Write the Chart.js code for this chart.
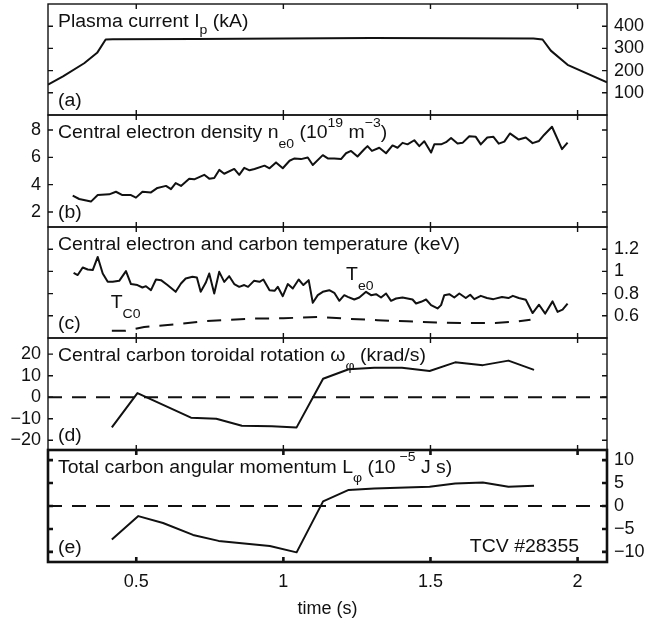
<!DOCTYPE html>
<html><head><meta charset="utf-8">
<script src="https://cdn.jsdelivr.net/npm/chart.js@4.4.1/dist/chart.umd.min.js"></script>
<style>
html,body{margin:0;padding:0;background:#fff;}
#wrap{position:relative;width:667px;height:620px;overflow:hidden;background:#fff;}
#wrap canvas{position:absolute;left:0;top:0;}
</style></head><body><div id="wrap">
<canvas id="ca" width="667" height="620"></canvas>
<canvas id="cb" width="667" height="620"></canvas>
<canvas id="cc" width="667" height="620"></canvas>
<canvas id="cd" width="667" height="620"></canvas>
<canvas id="ce" width="667" height="620"></canvas>
</div>
<script>
// ---- data ----
const timeTicks = [0.5, 1, 1.5, 2];
const tIp = [0.2,0.251,0.323,0.367,0.396,0.42,0.7,1.0,1.3,1.6,1.85,1.881,1.909,1.966,2.1];
const ip  = [137,174,233,280,340,341,342,345,347,346,345,340,290,226,147];

const tNe = [0.284,0.306,0.346,0.369,0.408,0.431,0.453,0.482,0.499,0.521,0.550,0.572,0.601,0.618,0.634,0.652,0.680,0.697,0.731,0.748,0.765,0.782,0.799,0.833,0.850,0.867,0.885,0.902,0.936,0.953,0.975,0.998,1.021,1.038,1.060,1.083,1.100,1.134,1.151,1.173,1.196,1.213,1.230,1.252,1.275,1.286,1.301,1.326,1.349,1.371,1.388,1.405,1.422,1.445,1.462,1.479,1.502,1.513,1.536,1.553,1.570,1.592,1.609,1.632,1.654,1.671,1.693,1.714,1.732,1.751,1.770,1.800,1.824,1.847,1.869,1.886,1.913,1.947,1.966];
const ne  = [3.19,2.95,2.76,3.24,3.29,3.48,3.24,3.24,3.05,3.48,3.43,3.76,3.91,3.67,4.12,3.91,4.44,4.39,4.72,4.44,4.48,5.08,4.80,5.15,4.72,5.23,5.05,5.15,5.39,5.20,5.63,5.20,5.75,5.92,5.87,5.99,5.44,6.16,5.92,5.92,5.87,6.30,6.47,6.06,6.59,6.82,6.47,6.70,6.30,6.87,6.70,7.06,6.95,7.25,6.82,7.18,6.35,6.95,6.95,7.11,7.42,7.02,7.06,7.54,7.50,6.95,7.45,7.50,7.00,7.15,7.75,7.30,7.45,7.04,7.20,7.64,8.24,6.60,7.08];

const tTe = [0.287,0.301,0.318,0.335,0.352,0.369,0.386,0.403,0.420,0.442,0.465,0.482,0.504,0.521,0.533,0.550,0.567,0.584,0.606,0.634,0.652,0.668,0.691,0.706,0.719,0.736,0.748,0.765,0.782,0.799,0.816,0.833,0.850,0.867,0.880,0.900,0.919,0.932,0.953,0.970,0.981,0.998,1.015,1.032,1.052,1.068,1.086,1.100,1.117,1.134,1.156,1.173,1.190,1.207,1.219,1.241,1.258,1.281,1.298,1.315,1.332,1.349,1.366,1.383,1.405,1.422,1.439,1.451,1.468,1.485,1.502,1.524,1.536,1.547,1.564,1.581,1.598,1.620,1.635,1.649,1.671,1.692,1.714,1.743,1.765,1.780,1.800,1.824,1.847,1.869,1.890,1.915,1.932,1.949,1.966];
const te  = [0.987,0.967,1.035,1.017,1.012,1.130,0.981,0.906,0.906,0.915,1.003,0.886,0.877,0.855,0.867,0.831,0.927,0.921,0.877,0.816,0.891,0.936,0.951,0.945,0.816,0.897,0.981,0.801,0.996,0.906,0.957,0.886,0.861,0.877,0.861,0.915,0.906,0.927,0.831,0.825,0.861,0.777,0.886,0.846,0.927,0.877,0.921,0.717,0.786,0.816,0.831,0.807,0.735,0.786,0.771,0.747,0.765,0.816,0.786,0.795,0.765,0.801,0.735,0.756,0.765,0.756,0.747,0.711,0.726,0.747,0.696,0.666,0.696,0.786,0.795,0.765,0.801,0.760,0.790,0.750,0.780,0.760,0.750,0.770,0.760,0.780,0.760,0.745,0.625,0.700,0.620,0.730,0.635,0.655,0.710];

const tTc = [0.417,0.464,0.527,0.640,0.736,0.820,0.900,1.000,1.120,1.230,1.320,1.420,1.520,1.620,1.720,1.800,1.840];
const tc  = [0.465,0.465,0.500,0.525,0.552,0.565,0.575,0.578,0.590,0.572,0.560,0.550,0.540,0.535,0.535,0.550,0.565];

const tRot = [0.417,0.504,0.686,0.772,0.859,0.961,1.045,1.135,1.222,1.309,1.403,1.497,1.584,1.678,1.765,1.852];
const rot  = [-14.0,1.9,-9.5,-10.0,-13.2,-13.5,-14.0,8.6,13.0,13.7,13.7,12.2,16.2,14.9,17.0,12.7];

const tMom = [0.417,0.507,0.591,0.693,0.780,0.954,1.045,1.135,1.222,1.309,1.497,1.584,1.678,1.765,1.852];
const mom  = [-7.3,-2.2,-3.7,-6.3,-7.6,-8.7,-10.1,1.0,3.5,3.8,4.2,4.9,5.1,4.2,4.4];

const tZero = [0.2, 2.1];
const zero  = [0, 0];

const ticksA = [100,200,300,400];
const ticksB = [2,4,6,8];
const ticksC = [0.6,0.8,1,1.2];
const ticksD = [-20,-10,0,10,20];
const ticksE = [-10,-5,0,5,10];

// ---- styling / layout ----
const FONT = '"Liberation Sans", Arial, Helvetica, sans-serif';
const MAIN = '18px ' + FONT, SMALL = '13px ' + FONT;
const SX = 1.08;           // horizontal stretch of the reference's lettering
const INK = '#111';
Chart.defaults.font.family = FONT;
Chart.defaults.color = INK;

function pts(t, v){ return t.map((x,i)=>({x:x, y:v[i]})); }
function fmt(v){ return v < 0 ? '\u2212' + Math.abs(v) : String(v); }

function drawRich(ctx, x, y, parts, right){
  let w = 0;
  for (const p of parts){ ctx.font = p.s ? SMALL : MAIN; w += ctx.measureText(p.t).width; }
  ctx.save();
  ctx.translate(right ? x - w * SX : x, y);
  ctx.scale(SX, 1);
  let cx = 0;
  for (const p of parts){
    ctx.font = p.s ? SMALL : MAIN;
    ctx.fillText(p.t, cx, p.dy || 0);
    cx += ctx.measureText(p.t).width;
  }
  ctx.restore();
}

function makeFrame(o){
  return {
    id: 'frame',
    afterDraw(chart){
      const {ctx, chartArea: a, scales: {x, y}} = chart;
      ctx.save();
      ctx.strokeStyle = INK; ctx.lineWidth = o.lw; ctx.lineCap = 'butt';
      ctx.strokeRect(a.left, a.top, a.right - a.left, a.bottom - a.top);
      ctx.beginPath();
      for (const v of o.yt){
        const py = y.getPixelForValue(v);
        ctx.moveTo(a.left, py); ctx.lineTo(a.left + 5, py);
        ctx.moveTo(a.right, py); ctx.lineTo(a.right - 5, py);
      }
      for (const v of timeTicks){
        const px = x.getPixelForValue(v);
        ctx.moveTo(px, a.top); ctx.lineTo(px, a.top + 5);
        ctx.moveTo(px, a.bottom); ctx.lineTo(px, a.bottom - 5);
      }
      ctx.stroke();
      ctx.fillStyle = INK; ctx.textBaseline = 'alphabetic'; ctx.textAlign = 'left';
      drawRich(ctx, a.left + 10, a.top + 23, o.title);
      drawRich(ctx, a.left + 10, a.bottom - 9, [{t: o.tag}]);
      for (const n of (o.notes || [])){
        if (n.pos) drawRich(ctx, x.getPixelForValue(n.pos[0]), y.getPixelForValue(n.pos[1]), n.parts);
        else drawRich(ctx, a.right - 28, a.bottom - 10, n.parts, true);
      }
      ctx.restore();
    }
  };
}

function lineDs(data, dash){
  return {data: data, borderColor: INK, borderWidth: 2, pointRadius: 0, tension: 0,
          borderDash: dash || [], fill: false, borderJoinStyle: 'round'};
}

function makePanel(id, top, bottom, side, min, max, yt, datasets, frameOpts, lastPanel){
  const yAxisW = side === 'left' ? 48 : 60;
  const pad = side === 'left' ? {left: 0, right: 60} : {left: 48, right: 0};
  frameOpts.yt = yt;
  new Chart(document.getElementById(id), {
    type: 'line',
    data: {datasets: datasets},
    options: {
      responsive: false, animation: false, devicePixelRatio: 1,
      layout: {padding: {top: top, bottom: lastPanel ? 0 : 620 - bottom, left: pad.left, right: pad.right}},
      plugins: {legend: {display: false}, tooltip: {enabled: false}},
      scales: {
        x: {type: 'linear', min: 0.2, max: 2.1, display: !!lastPanel,
            grid: {display: false, drawTicks: false}, border: {display: false},
            afterBuildTicks: s => { s.ticks = timeTicks.map(v => ({value: v})); },
            afterFit: s => { s.height = lastPanel ? 58 : 0; s.paddingLeft = 0; s.paddingRight = 0; },
            ticks: {autoSkip: false, padding: 9, maxRotation: 0, color: INK,
                    font: {size: 18, family: FONT}, callback: v => fmt(v)},
            title: {display: true, text: 'time (s)', color: INK, padding: {top: 0, bottom: 0},
                    font: {size: 18, family: FONT}}},
        y: {type: 'linear', position: side, min: min, max: max,
            grid: {display: false, drawTicks: false}, border: {display: false},
            afterBuildTicks: s => { s.ticks = yt.map(v => ({value: v})); },
            afterFit: s => { s.width = yAxisW; s.paddingTop = 0; s.paddingBottom = 0; },
            ticks: {autoSkip: false, padding: 7, color: INK,
                    font: {size: 18, family: FONT}, callback: v => fmt(v)}}
      }
    },
    plugins: [makeFrame(frameOpts)]
  });
}

makePanel('ca', 4, 115, 'right', 0, 500, ticksA,
  [lineDs(pts(tIp, ip))],
  {lw: 1.4, tag: '(a)', title: [{t: 'Plasma current I'}, {t: 'p', s: 1, dy: 7}, {t: ' (kA)'}]});

makePanel('cb', 115, 227, 'left', 0.9, 9.1, ticksB,
  [lineDs(pts(tNe, ne))],
  {lw: 1.4, tag: '(b)', title: [{t: 'Central electron density n'}, {t: 'e0', s: 1, dy: 10},
    {t: ' (10'}, {t: '19', s: 1, dy: -11}, {t: ' m'}, {t: '\u22123', s: 1, dy: -11}, {t: ')'}]});

makePanel('cc', 227, 338, 'right', 0.4, 1.4, ticksC,
  [lineDs(pts(tTe, te)), lineDs(pts(tTc, tc), [14, 10])],
  {lw: 1.4, tag: '(c)', title: [{t: 'Central electron and carbon temperature (keV)'}],
   notes: [{pos: [1.213, 0.924], parts: [{t: 'T'}, {t: 'e0', s: 1, dy: 10}]},
           {pos: [0.413, 0.666], parts: [{t: 'T'}, {t: 'C0', s: 1, dy: 10}]}]});

makePanel('cd', 338, 450, 'left', -24.5, 27.5, ticksD,
  [lineDs(pts(tZero, zero), [14, 10]), lineDs(pts(tRot, rot))],
  {lw: 1.4, tag: '(d)', title: [{t: 'Central carbon toroidal rotation \u03c9'}, {t: '\u03c6', s: 1, dy: 9}, {t: ' (krad/s)'}]});

makePanel('ce', 450, 562, 'right', -12.2, 12.2, ticksE,
  [lineDs(pts(tZero, zero), [14, 10]), lineDs(pts(tMom, mom))],
  {lw: 2.6, tag: '(e)', title: [{t: 'Total carbon angular momentum L'}, {t: '\u03c6', s: 1, dy: 9},
    {t: ' (10'}, {t: ' \u22125', s: 1, dy: -12}, {t: ' J s)'}],
   notes: [{parts: [{t: 'TCV #28355'}]}]}, true);
</script>
</body></html>
